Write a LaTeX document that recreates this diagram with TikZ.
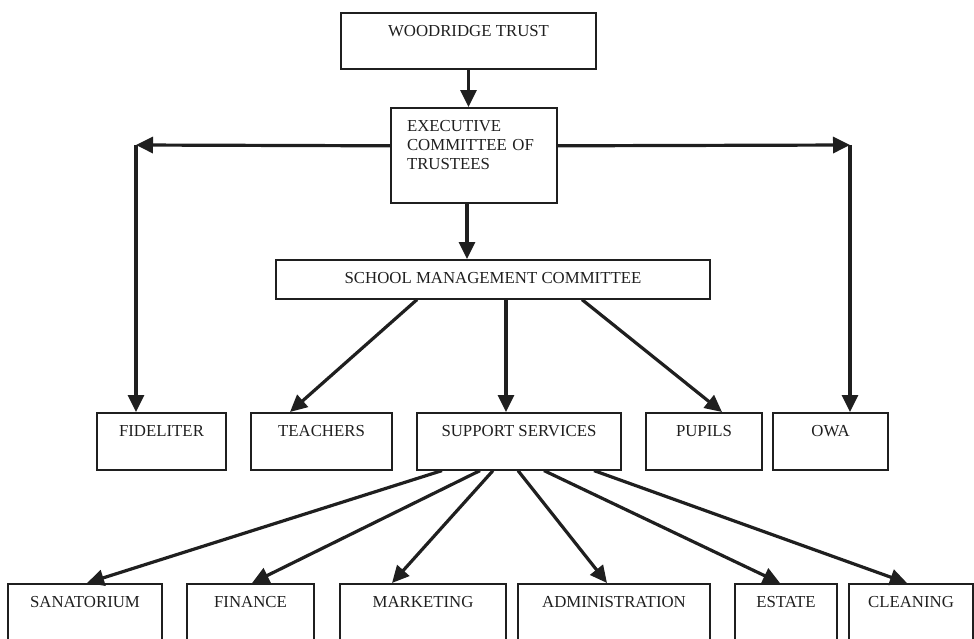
\documentclass[tikz,border=0pt]{standalone}
\usepackage{fontspec}
\setmainfont{Liberation Serif}
\usetikzlibrary{arrows.meta}

\colorlet{ink}{black!88}
\tikzset{
  box/.style={draw=ink, text=ink, line width=1.6pt, anchor=north,
    inner xsep=0pt, inner ysep=0pt, text height=24pt,
    font=\fontsize{16.8}{19}\selectfont},
  arr/.style={draw=ink, line width=3.2pt, -{Triangle[length=17pt,width=16pt]}},
}

\begin{document}
\begin{tikzpicture}[x=1pt, y=-1pt]
    \useasboundingbox (0,0) rectangle (974,638);

    % Trust and committees
    \node[box, minimum width=255pt, text depth=32pt] (trust) at (468.5,12) {WOODRIDGE TRUST};
    \node[box, inner xsep=16pt, text width=134pt, align=left, text depth=71pt] (exec) at (474,107)
        {EXECUTIVE\\COMMITTEE OF\\TRUSTEES};
    \node[box, minimum width=434pt, text depth=15pt] (school) at (493,259) {SCHOOL MANAGEMENT COMMITTEE};

    % Middle row
    \node[box, minimum width=129pt, text depth=33pt] (fid) at (161.5,412) {FIDELITER};
    \node[box, minimum width=141pt, text depth=33pt] (teach) at (321.5,412) {TEACHERS};
    \node[box, minimum width=204pt, text depth=33pt] (supp) at (519,412) {SUPPORT SERVICES};
    \node[box, minimum width=116pt, text depth=33pt] (pupils) at (704,412) {PUPILS};
    \node[box, minimum width=115pt, text depth=33pt] (owa) at (830.5,412) {OWA};

    % Bottom row (runs off the page)
    \node[box, minimum width=154pt, text depth=46pt] (san) at (85,583) {SANATORIUM};
    \node[box, minimum width=127pt, text depth=46pt] (fin) at (250.5,583) {FINANCE};
    \node[box, minimum width=166pt, text depth=46pt] (mkt) at (423,583) {MARKETING};
    \node[box, minimum width=192pt, text depth=46pt] (adm) at (614,583) {ADMINISTRATION};
    \node[box, minimum width=102pt, text depth=46pt] (est) at (786,583) {ESTATE};
    \node[box, minimum width=124pt, text depth=46pt] (cln) at (911,583) {CLEANING};

    % Corners of the side branches
    \coordinate (fidc) at (136,145);
    \coordinate (owac) at (850,145);

    % Top arrows
    \draw[arr] (trust.south) -- (trust.south |- exec.north);
    \draw[arr] ([xshift=-7pt]exec.south) -- ([xshift=-7pt]exec.south |- school.north);
    \draw[arr] ([yshift=9.5pt]exec.west) -- (fidc);
    \draw[arr] (fidc) -- (fidc |- fid.north);
    \draw[arr] ([yshift=9.5pt]exec.east) -- (owac);
    \draw[arr] (owac) -- (owac |- owa.north);

    % From the school management committee
    \draw[arr] ([xshift=-76pt]school.south) -- ([xshift=-31.5pt]teach.north);
    \draw[arr] ([xshift=13pt]school.south) -- ([xshift=13pt]school.south |- supp.north);
    \draw[arr] ([xshift=89pt]school.south) -- ([xshift=18pt]pupils.north);

    % From support services
    \draw[arr] ([xshift=-77pt]supp.south) -- ([xshift=2pt]san.north);
    \draw[arr] ([xshift=-39pt]supp.south) -- ([xshift=1.5pt]fin.north);
    \draw[arr] ([xshift=-26pt]supp.south) -- ([xshift=-31pt]mkt.north);
    \draw[arr] ([xshift=-1pt]supp.south) -- ([xshift=-7pt]adm.north);
    \draw[arr] ([xshift=25pt]supp.south) -- ([xshift=-6pt]est.north);
    \draw[arr] ([xshift=75pt]supp.south) -- ([xshift=-4pt]cln.north);
\end{tikzpicture}
\end{document}
